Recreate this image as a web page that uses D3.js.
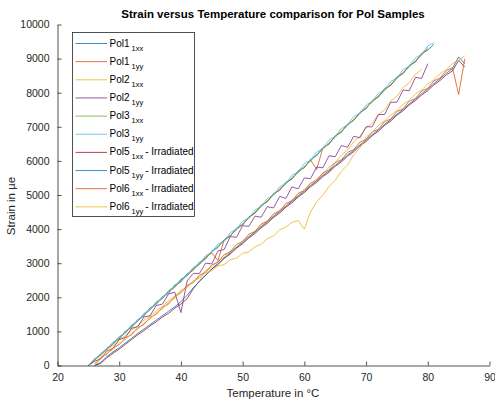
<!DOCTYPE html>
<html>
<head>
<meta charset="utf-8">
<script src="https://cdn.jsdelivr.net/npm/d3@7"></script>
<style>
  html, body { margin: 0; padding: 0; background: #fff; }
  svg { display: block; font-family: "Liberation Sans", Arial, sans-serif; }
</style>
</head>
<body>
<svg id="chart" width="495" height="402"></svg>
<script>
// ---------- DATA ----------
const tempA = [25,26,27,28,29,30,31,32,33,34,35,36,37,38,39,40,41,42,43,44,45,46,47,48,49,50,51,52,53,54,55,56,57,58,59,60,61,62,63,64,65,66,67,68,69,70,71,72,73,74,75,76,77,78,79,80,81];
const tempB = [26,27,28,29,30,31,32,33,34,35,36,37,38,39,40,41,42,43,44,45,46,47,48,49,50,51,52,53,54,55,56,57,58,59,60,61,62,63,64,65,66,67,68,69,70,71,72,73,74,75,76,77,78,79,80,81,82,83,84,85,86];

const pol1xx = [0,140,350,460,680,780,1010,1110,1350,1450,1690,1790,2020,2120,2360,2450,2690,2790,3030,3120,3360,3460,3690,3790,4030,4120,4360,4460,4700,4800,5040,5140,5370,5470,5710,5800,6050,6150,6390,6490,6740,6840,7080,7190,7420,7530,7770,7870,8120,8210,8460,8560,8800,8900,9150,9250,9420];
const pol1yy = [0,180,300,500,620,830,950,1170,1290,1500,1630,1840,1960,2180,2290,2510,2630,2840,2960,3180,3300,3080,3680,3800,4010,4130,4350,4470,4690,4810,5030,5140,5360,5480,5690,5810,6030,5750,6380,6500,6730,6850,7070,7190,7410,7540,7760,7880,8100,8220,8450,8570,8790,8910,9140,9260];
const pol2xx = [0,170,290,470,580,760,870,1040,1160,1330,1440,1610,1730,1900,2020,2200,2300,2480,2590,2780,2880,3060,3180,3360,3470,3660,3780,3940,4090,4240,4390,4560,4680,4860,4980,5170,5290,5480,5600,5820,5950,6170,6320,6560,6720,6960,7110,7360,7500,7760,7900,8150,8290,8540,8680];
const pol2yy = [0,120,200,420,500,760,820,1090,1140,1420,1460,1760,1800,2100,2150,1550,2480,2700,2700,3000,2980,3360,3400,3780,3760,4100,4080,4380,4350,4660,4620,4960,4900,5240,5180,5500,5480,5820,5800,6150,6120,6450,6400,6720,6680,7000,7000,7360,7360,7720,7720,8080,8060,8450,8420,8850];
const pol3xx = [0,170,310,490,630,810,960,1150,1300,1490,1640,1830,1970,2160,2300,2490,2640,2830,2970,3160,3310,3500,3640,3830,3970,4160,4310,4500,4650,4840,4990,5180,5320,5510,5650,5840,5990,6190,6340,6530,6690,6880,7030,7220,7380,7570,7720,7910,8060,8250,8410,8600,8750,8940,9100,9320];
const pol3yy = [0,200,330,520,640,850,960,1190,1300,1530,1640,1870,1980,2200,2320,2540,2650,2880,2990,3220,3330,3560,3660,3900,4000,4230,4330,4560,4670,4900,5010,5240,5340,5580,5680,5920,6020,6260,6370,6610,6720,6950,7060,7300,7400,7640,7750,7980,8090,8330,8430,8680,8780,9020,9130,9370,9470];
const pol5xx = [0,60,230,360,480,620,760,900,1020,1160,1280,1420,1530,1680,1800,1960,2250,2480,2650,2830,2960,3140,3270,3440,3570,3740,3870,4040,4170,4340,4470,4640,4770,4940,5070,5240,5370,5540,5670,5840,5970,6140,6270,6440,6570,6740,6870,7040,7170,7340,7470,7640,7770,7930,8060,8230,8360,8520,8640,8950,8750];
const pol5yy = [0,90,260,400,520,660,800,940,1070,1200,1330,1460,1590,1720,1870,2060,2280,2460,2640,2830,2990,3150,3300,3460,3600,3770,3910,4070,4210,4370,4510,4670,4810,4970,5110,5270,5410,5570,5710,5870,6010,6170,6310,6470,6610,6770,6910,7070,7210,7370,7510,7670,7810,7970,8110,8270,8410,8570,8710,9050,8850];
const pol6xx = [40,230,330,520,610,810,900,1110,1200,1410,1500,1710,1800,2030,2130,2350,2430,2650,2730,2950,3030,3250,3330,3550,3630,3850,3930,4150,4230,4450,4530,4750,4830,5050,5130,5350,5430,5650,5730,5950,6030,6250,6330,6550,6630,6850,6930,7150,7230,7450,7530,7750,7830,8050,8130,8350,8430,8650,8730,7950,9000];
const pol6yy = [0,180,360,470,650,760,950,1060,1250,1360,1550,1660,1850,1970,2180,2280,2480,2560,2720,2780,2920,2960,3100,3150,3290,3330,3480,3560,3720,3800,3980,4060,4200,4250,4000,4500,4800,5000,5250,5430,5700,5880,6180,6380,6700,6840,7040,7180,7340,7480,7660,7780,7960,8080,8260,8380,8560,8680,8850,8950,9080];

const seriesNames = ["Pol1","Pol1","Pol2","Pol2","Pol3","Pol3","Pol5","Pol5","Pol6","Pol6"];
const seriesSubs  = ["1xx","1yy","1xx","1yy","1xx","1yy","1xx","1yy","1xx","1yy"];
const seriesSuffix = ["","","","","","","- Irradiated","- Irradiated","- Irradiated","- Irradiated"];
const seriesValues = [pol1xx,pol1yy,pol2xx,pol2yy,pol3xx,pol3yy,pol5xx,pol5yy,pol6xx,pol6yy];
const seriesTemps  = [tempA,tempA,tempA,tempA,tempA,tempA,tempB,tempB,tempB,tempB];

const xTicks = [20,30,40,50,60,70,80,90];
const yTicks = [0,1000,2000,3000,4000,5000,6000,7000,8000,9000,10000];

const titleText = "Strain versus Temperature comparison for Pol Samples";
const xLabel = "Temperature in \u00B0C";
const yLabel = "Strain in \u00B5e";

// ---------- STYLE ----------
const colors = ["#0072BD","#D95319","#EDB120","#7E2F8E","#77AC30","#4DBEEE","#A2142F","#0072BD","#D95319","#EDB120"];
const axisColor = "#262626";

// ---------- DRAW ----------
const svg = d3.select("#chart");
const x = d3.scaleLinear().domain([20, 90]).range([57.5, 489.5]);
const y = d3.scaleLinear().domain([0, 10000]).range([365.5, 24.5]);

// series
const line = d3.line().x(d => x(d[0])).y(d => y(d[1]));
seriesValues.forEach((vals, i) => {
  const pts = vals.map((v, j) => [seriesTemps[i][j], v]);
  svg.append("path")
    .attr("d", line(pts))
    .attr("fill", "none")
    .attr("stroke", colors[i])
    .attr("stroke-width", 0.8)
    .attr("stroke-linejoin", "round");
});

// axes
const xAxis = d3.axisBottom(x).tickValues(xTicks).tickSizeInner(-4).tickSizeOuter(0).tickPadding(8).tickFormat(d3.format("d"));
const yAxis = d3.axisLeft(y).tickValues(yTicks).tickSizeInner(-4).tickSizeOuter(0).tickPadding(8).tickFormat(d3.format("d"));

const gx = svg.append("g").attr("transform", `translate(0,${y(0)})`).call(xAxis);
const gy = svg.append("g").attr("transform", `translate(${x(20)},0)`).call(yAxis);
[gx, gy].forEach(g => {
  g.select(".domain").attr("stroke", axisColor).attr("stroke-width", 0.8);
  g.selectAll(".tick line").attr("stroke", axisColor).attr("stroke-width", 0.8);
  g.selectAll(".tick text").attr("fill", axisColor).attr("font-size", 10.5)
    .attr("font-family", "Liberation Sans, Arial, sans-serif");
});
gx.selectAll(".tick text").attr("dy", "0.71em");

// labels
svg.append("text").attr("x", 273).attr("y", 18).attr("text-anchor", "middle")
  .attr("font-size", 11.5).attr("font-weight", "bold").attr("fill", "#000").text(titleText);
svg.append("text").attr("x", 273).attr("y", 397).attr("text-anchor", "middle")
  .attr("font-size", 11.5).attr("fill", axisColor).text(xLabel);
svg.append("text").attr("transform", "translate(15,206) rotate(-90)").attr("text-anchor", "middle")
  .attr("font-size", 11.5).attr("fill", axisColor).text(yLabel);

// legend
const lg = svg.append("g");
lg.append("rect").attr("x", 72.5).attr("y", 32.5).attr("width", 122).attr("height", 184)
  .attr("fill", "#fff").attr("stroke", axisColor).attr("stroke-width", 0.8);
seriesNames.forEach((nm, i) => {
  const cy = 43.5 + i * 18.15;
  lg.append("line").attr("x1", 75.5).attr("x2", 107).attr("y1", cy).attr("y2", cy)
    .attr("stroke", colors[i]).attr("stroke-width", 0.8);
  const t = lg.append("text").attr("x", 109.5).attr("y", cy + 3).attr("font-size", 10).attr("fill", "#000");
  t.append("tspan").text(nm);
  t.append("tspan").attr("dx", 2).attr("dy", 4).attr("font-size", 7.5).text(seriesSubs[i]);
  if (seriesSuffix[i]) {
    t.append("tspan").attr("dx", 2).attr("dy", -4).text(seriesSuffix[i]);
  }
});
</script>
</body>
</html>
